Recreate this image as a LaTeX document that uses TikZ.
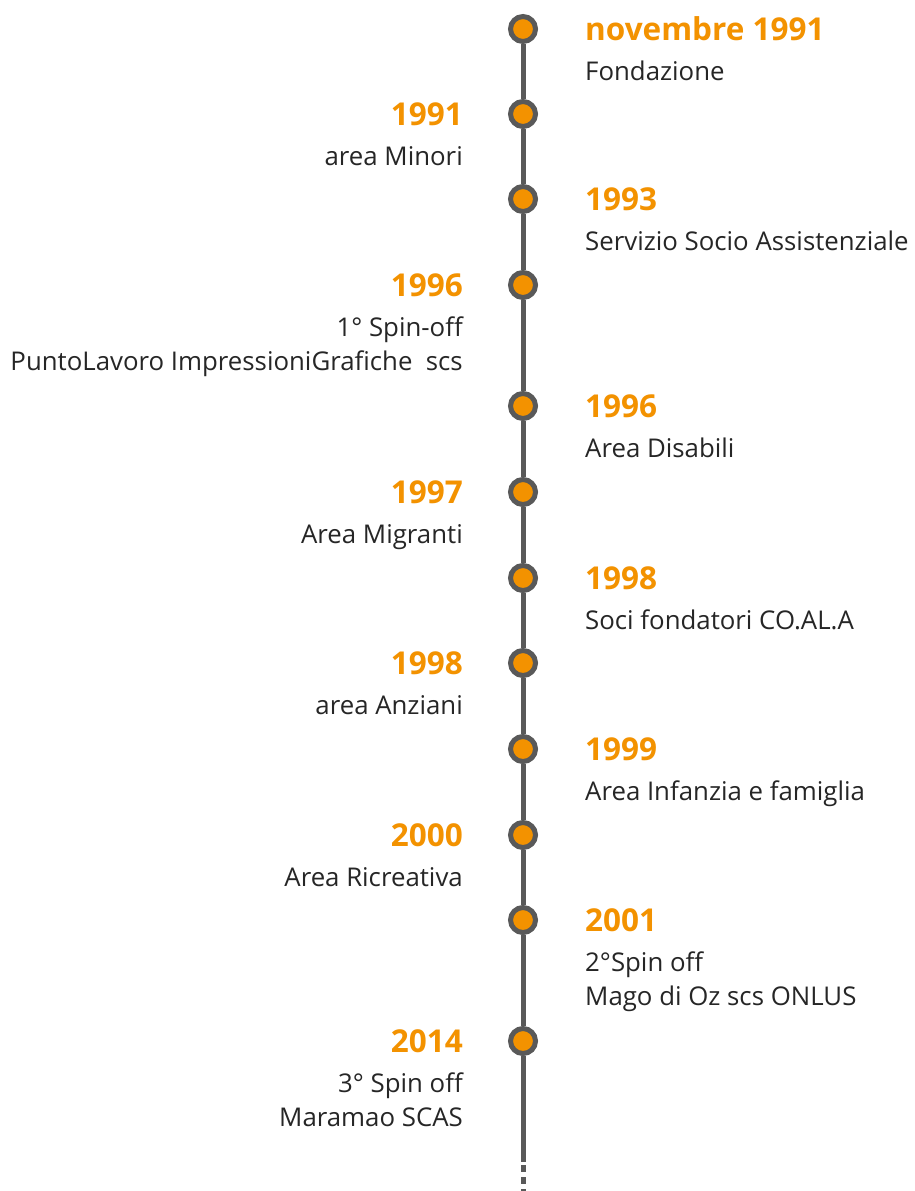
\documentclass[tikz,border=0pt]{standalone}
\usepackage{fontspec}
\setmainfont{Open Sans}
\definecolor{orng}{HTML}{F39200}
\definecolor{lgrey}{HTML}{595959}
\definecolor{txt}{HTML}{262626}
\begin{document}
\begin{tikzpicture}[x=1pt,y=-1pt,
  dot/.style={circle, draw=lgrey, fill=orng, line width=5pt, minimum size=25pt, inner sep=0pt},
  tl/.style={draw=lgrey, line width=5pt},
  yr/.style={inner sep=0pt, text=orng, font=\fontsize{31.5}{36}\selectfont\bfseries},
  yrR/.style={yr, anchor=base west},
  yrL/.style={yr, anchor=base east},
  ds/.style={inner sep=0pt, text=txt, font=\fontsize{25.8}{30}\selectfont},
  dsR/.style={ds, anchor=base west},
  dsL/.style={ds, anchor=base east}]
\fill[white] (0,0) rectangle (915,1191);
\useasboundingbox (0,0) rectangle (915,1191);
% dots
\node[dot] (c1) at (523,29) {};
\node[dot] (c2) at (523,114) {};
\node[dot] (c3) at (523,199) {};
\node[dot] (c4) at (523,285) {};
\node[dot] (c5) at (523,406) {};
\node[dot] (c6) at (523,492) {};
\node[dot] (c7) at (523,578) {};
\node[dot] (c8) at (523,663) {};
\node[dot] (c9) at (523,749) {};
\node[dot] (c10) at (523,835) {};
\node[dot] (c11) at (523,920) {};
\node[dot] (c12) at (523,1041) {};
\coordinate (e1) at (523,1162);
\coordinate (e2) at (523,1165);
\coordinate (e3) at (523,1191);
% line
\draw[tl] (c1) -- (c2);
\draw[tl] (c2) -- (c3);
\draw[tl] (c3) -- (c4);
\draw[tl] (c4) -- (c5);
\draw[tl] (c5) -- (c6);
\draw[tl] (c6) -- (c7);
\draw[tl] (c7) -- (c8);
\draw[tl] (c8) -- (c9);
\draw[tl] (c9) -- (c10);
\draw[tl] (c10) -- (c11);
\draw[tl] (c11) -- (c12);
\draw[tl] (c12) -- (e1);
\draw[tl, dash pattern=on 7pt off 5pt] (e2) -- (e3);
% labels
\node[yrR] (y1) at (585,40) {novembre 1991};
\node[dsR] (d1) at (585,80) {Fondazione};
\node[yrL] (y2) at (463,125) {1991};
\node[dsL] (d2) at (463,165) {area Minori};
\node[yrR] (y3) at (585,210) {1993};
\node[dsR] (d3) at (585,250) {Servizio Socio Assistenziale};
\node[yrL] (y4) at (463,296) {1996};
\node[dsL] (d4a) at (463,336) {1° Spin-off};
\node[dsL] (d4b) at (463,370) {PuntoLavoro ImpressioniGrafiche\ \ scs};
\node[yrR] (y5) at (585,417) {1996};
\node[dsR] (d5) at (585,457) {Area Disabili};
\node[yrL] (y6) at (463,503) {1997};
\node[dsL] (d6) at (463,543) {Area Migranti};
\node[yrR] (y7) at (585,589) {1998};
\node[dsR] (d7) at (585,629) {Soci fondatori CO.AL.A};
\node[yrL] (y8) at (463,674) {1998};
\node[dsL] (d8) at (463,714) {area Anziani};
\node[yrR] (y9) at (585,760) {1999};
\node[dsR] (d9) at (585,800) {Area Infanzia e famiglia};
\node[yrL] (y10) at (463,846) {2000};
\node[dsL] (d10) at (463,886) {Area Ricreativa};
\node[yrR] (y11) at (585,931) {2001};
\node[dsR] (d11a) at (585,971) {2°Spin off};
\node[dsR] (d11b) at (585,1005) {Mago di Oz scs ONLUS};
\node[yrL] (y12) at (463,1052) {2014};
\node[dsL] (d12a) at (463,1092) {3° Spin off};
\node[dsL] (d12b) at (463,1126) {Maramao SCAS};
\end{tikzpicture}
\end{document}
